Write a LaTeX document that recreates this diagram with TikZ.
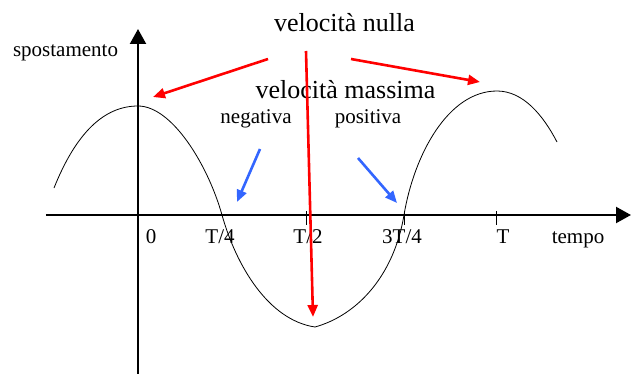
\documentclass[tikz,border=0pt]{standalone}
\usepackage{fontspec}
\setmainfont{Liberation Serif}
\usepackage{xcolor}
\usetikzlibrary{arrows.meta}

\definecolor{velred}{RGB}{255,0,0}
\definecolor{velblue}{RGB}{51,102,255}

\begin{document}
\begin{tikzpicture}[x=10bp,y=10bp,>={Triangle[length=12bp,width=10bp]},
  axis/.style={line width=2.2bp,-{Triangle[length=15bp,width=16bp]}},
  lab/.style={anchor=base,inner sep=0pt,font=\fontsize{21bp}{24bp}\selectfont},
  big/.style={anchor=base,inner sep=0pt,font=\fontsize{26bp}{30bp}\selectfont},
  nulla/.style={->,velred,line width=2.6bp},
  segno/.style={->,velblue,line width=2.6bp}]
  \useasboundingbox (-13.8,-15.9) rectangle (49.3,21.5);

  % axes
  \draw[axis] (-9.2,0) -- (49.3,0);
  \draw[axis] (0,-15.9) -- (0,18.6);
  \foreach \x in {16.8,26.6,35.8}
    \draw[line width=0.9bp] (\x,0.4) -- (\x,-1.0);

  % displacement, two pieces meeting at the trough
  \draw[line width=0.8bp]
    (-8.4,2.7) .. controls (-6.2,8.2) and (-3.4,10.9) .. (0,10.9)
    .. controls (3.4,10.9) and (7.0,5.0) .. (8.4,0)
    .. controls (9.8,-5.0) and (13,-10.5) .. (17.7,-11.2);
  \draw[line width=0.8bp]
    (17.7,-11.2) .. controls (22,-10) and (25.6,-6) .. (26.6,0)
    .. controls (27.6,6) and (31,12.4) .. (35.9,12.4)
    .. controls (38.5,12.4) and (40.5,10) .. (41.9,7.3);

  % labels
  \foreach \x/\t/\n in {1.3/0/tzero,8.2/{T/4}/tquarto,17.0/{T/2}/tmezzo,
                        26.4/{3T/4}/ttrequarti,36.5/T/tperiodo}
    \node[lab] (\n) at (\x,-2.8) {\t};
  \node[lab] (tempo) at (44.0,-2.8) {tempo};
  \node[lab] (spostamento) at (-7.25,15.8) {spostamento};
  \node[big] (nulla) at (20.65,18.3) {velocità nulla};
  \node[big] (massima) at (20.75,11.6) {velocità massima};
  \node[lab] (negativa) at (11.8,9.1) {negativa};
  \node[lab] (positiva) at (23.0,9.1) {positiva};

  % arrows
  \coordinate (vn1) at (13.0,15.6);
  \coordinate (vn2) at (16.8,16.4);
  \coordinate (vn3) at (21.3,15.6);
  \coordinate (cresta1) at (1.5,11.8);
  \coordinate (valle) at (17.5,-10.2);
  \coordinate (cresta2) at (34.2,13.3);
  \draw[nulla] (vn1) -- (cresta1);
  \draw[nulla] (vn2) -- (valle);
  \draw[nulla] (vn3) -- (cresta2);

  \coordinate (vneg) at (12.2,6.6);
  \coordinate (zneg) at (9.9,1.3);
  \coordinate (vpos) at (22.0,5.7);
  \coordinate (zpos) at (25.9,1.2);
  \draw[segno] (vneg) -- (zneg);
  \draw[segno] (vpos) -- (zpos);
\end{tikzpicture}
\end{document}
